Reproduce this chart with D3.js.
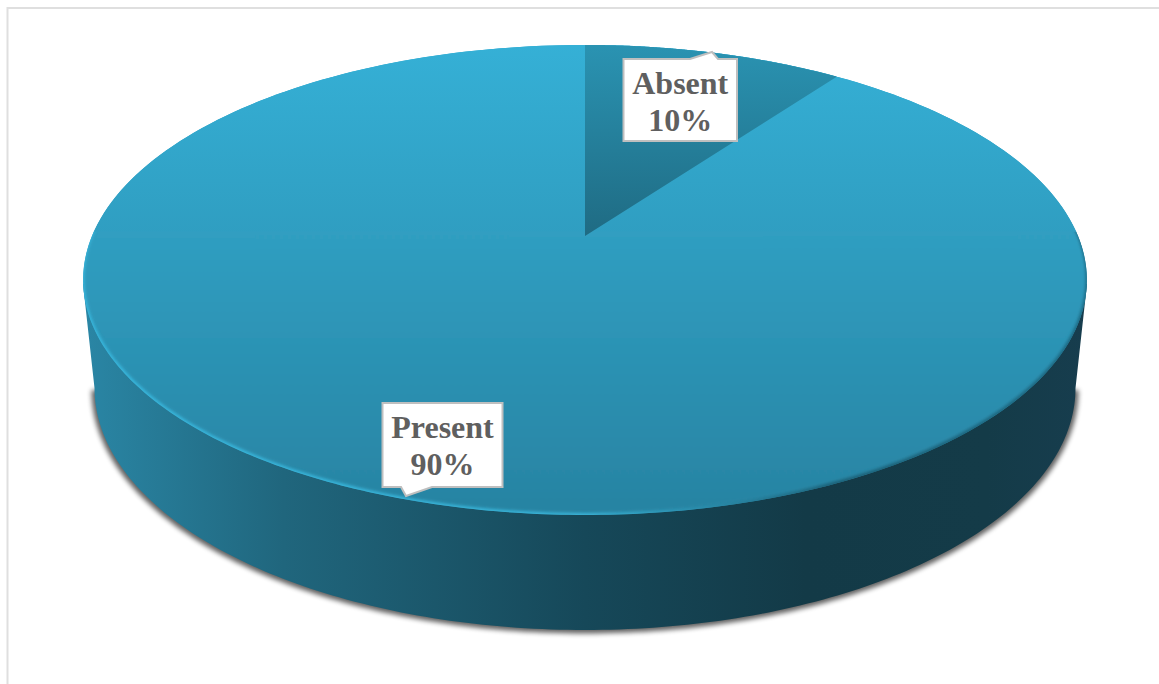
<!DOCTYPE html>
<html><head><meta charset="utf-8">
<style>html,body{margin:0;padding:0;background:#fff;overflow:hidden}svg{display:block}</style>
<script src="https://cdn.jsdelivr.net/npm/d3@7/dist/d3.min.js"></script>
</head><body><svg id="c" width="1159" height="684"></svg>
<script>
const categories = ["Present", "Absent"];
const values = [90, 10];

const svg = d3.select("#c");
const defs = svg.append("defs");
function grad(id, x2, y2, stops, extra) {
  const g = defs.append("linearGradient").attr("id", id)
    .attr("gradientUnits", "userSpaceOnUse").attr("x1", extra[0]).attr("y1", extra[1]).attr("x2", x2).attr("y2", y2);
  stops.forEach(s => g.append("stop").attr("offset", s[0]).attr("stop-color", s[1]));
}
grad("top", 0, 515, [[0, "#35b0d6"], [1, "#2783a2"]], [0, 45]);
grad("wedge", 0, 236, [[0, "#2a93b2"], [1, "#1f6b83"]], [0, 45]);
grad("rim", 1087, 0, [[0, "#38b6dc"], [0.5, "#38b2d6"], [0.62, "#2a8cab"], [0.75, "#1c5f75"], [1, "#1d6a84"]], [83, 0]);
grad("wall", 1087, 0, [[0, "#2a86a5"], [0.2, "#20667d"], [0.5, "#164859"], [0.72, "#133a47"], [0.9, "#143b48"], [1, "#173d4e"]], [83, 0]);
const f = defs.append("filter").attr("id", "sh").attr("x", "-10%").attr("y", "-10%").attr("width", "120%").attr("height", "130%");
f.append("feGaussianBlur").attr("stdDeviation", 2.6);
const soft = defs.append("filter").attr("id", "soft").attr("x", "-5%").attr("y", "-5%").attr("width", "110%").attr("height", "110%");
soft.append("feGaussianBlur").attr("stdDeviation", 1.4);

// frame
svg.append("path").attr("d", "M7.5,684V8H1159").attr("fill", "none").attr("stroke", "#dfdfdf").attr("stroke-width", 2);

// perspective projection of the unit disc
const cx = 585, cy = 236, A = 493, B = 226.8, k = -0.187;
const proj = (a, r = 1) => {
  const u = r * Math.sin(a), v = -r * Math.cos(a), w = 1 + k * v;
  return [cx + A * u / w, cy + B * v / w];
};
const pie = d3.pie().sort(null).value(d => d);
const arcs = pie(values);
const line = d3.line();
const sweep = (a0, a1) => d3.range(0, 241).map(i => proj(a0 + (a1 - a0) * i / 240));

// base ellipse of the extrusion
const bx = 585, by = 388, brx = 490.5, bry = 242;
const lowerHalf = d3.range(0, 181).map(i => {
  const t = Math.PI * i / 180;
  return [bx + brx * Math.cos(t), by + bry * Math.sin(t)];
});
svg.append("path").attr("d", line(lowerHalf) + "Z").attr("fill", "#000").attr("opacity", 0.62)
  .attr("filter", "url(#sh)")
  .attr("transform", "translate(585,390) scale(1.006,1.006) translate(-585,-388)");
svg.append("path").attr("d", line([[1087, 284], ...lowerHalf, [83, 284]]) + "Z").attr("fill", "url(#wall)");

// top face
const full = sweep(0, 2 * Math.PI);
const clip = defs.append("clipPath").attr("id", "disc");
clip.append("path").attr("d", line(full) + "Z");
svg.append("path").attr("d", line(full) + "Z").attr("fill", "url(#top)");
svg.append("path").attr("d", line(sweep(Math.PI / 2 - 0.02, 3 * Math.PI / 2 + 0.02)) + "Z").attr("fill", "url(#rim)");
const g = svg.append("g").attr("clip-path", "url(#disc)");
g.append("path").attr("d", line(full) + "Z").attr("fill", "url(#top)").attr("filter", "url(#soft)")
  .attr("transform", "translate(0,-1.5) translate(585,280) scale(0.9975) translate(-585,-280)");
// fill any blurred gap along the far edge
g.append("path").attr("d", line(sweep(-Math.PI / 2 + 0.02, Math.PI / 2 - 0.02)) + "Z").attr("fill", "url(#top)");

const absent = arcs[1];
// wedge sits at the top, starting at 12 o'clock and running clockwise
const wedgeA0 = 0, wedgeA1 = absent.endAngle - absent.startAngle;
svg.append("path").attr("d", line([[cx, cy], ...sweep(wedgeA0, wedgeA1)]) + "Z").attr("fill", "url(#wedge)");

// callouts
function callout(text, x, y, w, h, px, py, b0, b1, onTop) {
  const d = `M${x},${y}` +
    (onTop ? `H${b0}L${px},${py}L${b1},${y}` : "") + `H${x + w}V${y + h}` +
    (!onTop ? `H${b1}L${px},${py}L${b0},${y + h}` : "") + `H${x}Z`;
  const gg = svg.append("g");
  gg.append("path").attr("d", d).attr("fill", "#fff").attr("stroke", "#bfbfbf").attr("stroke-width", 2);
  text.forEach((t, i) => gg.append("text").attr("x", x + w / 2).attr("y", y + 35 + i * 37)
    .attr("text-anchor", "middle").attr("font-family", "'Liberation Serif'").attr("font-weight", 700)
    .attr("font-size", 32).attr("fill", "#5f5f5f").text(t));
}
const pct = d => Math.round(d) + "%";
callout([categories[1], pct(values[1])], 623.5, 59, 113.5, 82, 712, 52, 690, 718, true);
callout([categories[0], pct(values[0])], 382.5, 403, 120, 84, 406, 496, 401, 432, false);
</script></body></html>
